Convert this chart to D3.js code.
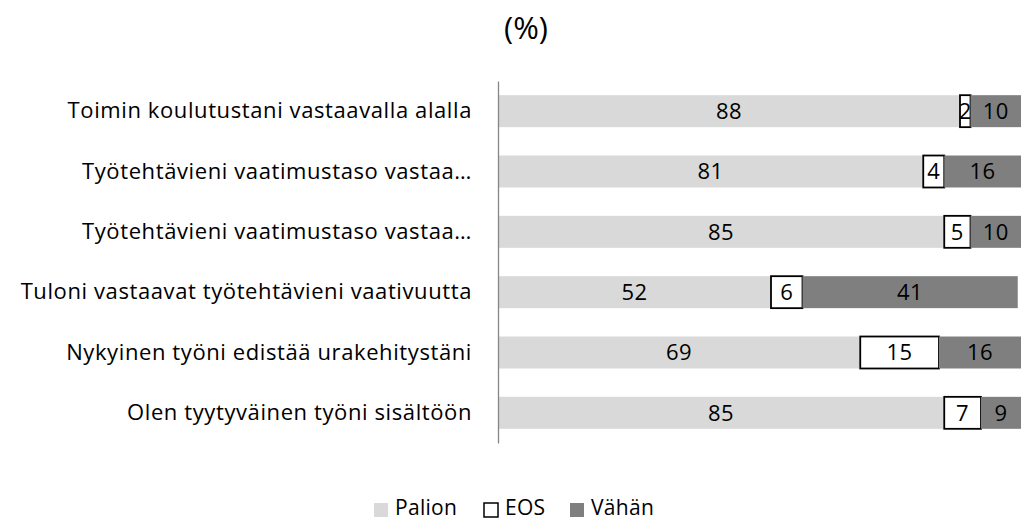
<!DOCTYPE html>
<html>
<head>
<meta charset="utf-8">
<script src="https://cdn.jsdelivr.net/npm/d3@7"></script>
<style>
  body { margin: 0; background: #fff; }
  text { font-family: "Open Sans", "Noto Sans", sans-serif; fill: #000; }
</style>
</head>
<body>
<script>
var kategoriat = [
  "Toimin koulutustani vastaavalla alalla",
  "Työtehtävieni vaatimustaso vastaa…",
  "Työtehtävieni vaatimustaso vastaa…",
  "Tuloni vastaavat työtehtävieni vaativuutta",
  "Nykyinen työni edistää urakehitystäni",
  "Olen tyytyväinen työni sisältöön"
];
var palion = [88, 81, 85, 52, 69, 85];
var eos = [2, 4, 5, 6, 15, 7];
var vahan = [10, 16, 10, 41, 16, 9];
var sarjat = ["Palion", "EOS", "Vähän"];

var vis = { width: 1021, height: 522, left: 498, right: 1023, top: 81, bottom: 443 };

var svg = d3.select("body").append("svg")
  .attr("width", vis.width)
  .attr("height", vis.height);

var rivit = kategoriat.map(function(k, i) {
  return { i: i, kategoria: k, Palion: palion[i], EOS: eos[i], "Vähän": vahan[i] };
});

var stack = d3.stack().keys(sarjat)(rivit);

var x = d3.scaleLinear().domain([0, 100]).range([vis.left, vis.right]);
var y = d3.scaleBand().domain(d3.range(kategoriat.length))
  .range([vis.top, vis.bottom]).paddingInner(0.47).paddingOuter(0.235);

var varit = { "Palion": "#d9d9d9", "EOS": "#ffffff", "Vähän": "#7f7f7f" };

var ryhmat = svg.selectAll("g.sarja")
  .data(stack)
  .enter()
  .append("g")
  .attr("class", "sarja");

ryhmat.selectAll("rect")
  .data(function(s) { return s.map(function(d) { return { key: s.key, d: d }; }); })
  .enter()
  .append("rect")
  .attr("x", function(e) { return x(e.d[0]); })
  .attr("y", function(e) { return y(e.d.data.i); })
  .attr("width", function(e) { return x(e.d[1]) - x(e.d[0]); })
  .attr("height", y.bandwidth())
  .attr("fill", function(e) { return varit[e.key]; })
  .attr("stroke", function(e) { return e.key === "EOS" ? "#000" : "none"; })
  .attr("stroke-width", 1.8);

ryhmat.selectAll("text")
  .data(function(s) { return s.map(function(d) { return { key: s.key, d: d }; }); })
  .enter()
  .append("text")
  .attr("x", function(e) { return (x(e.d[0]) + Math.min(x(e.d[1]), vis.width)) / 2; })
  .attr("y", function(e) { return y(e.d.data.i) + y.bandwidth() / 2; })
  .attr("dy", "0.36em")
  .attr("text-anchor", "middle")
  .attr("font-size", 22)
  .attr("letter-spacing", 0.5)
  .attr("fill", "#000")
  .text(function(e) { return e.d[1] - e.d[0]; });

// akseli
var akseli = svg.append("g")
  .attr("transform", "translate(" + vis.left + ",0)")
  .call(d3.axisLeft(y).tickSize(0).tickPadding(26).tickFormat(function(i) { return kategoriat[i]; }));
akseli.select(".domain").attr("stroke", "#868686").attr("stroke-width", 1.3);
akseli.selectAll("text").attr("font-size", 22)
  .attr("letter-spacing", 0.6)
  .attr("font-family", "'Open Sans', sans-serif").attr("fill", "#000");

svg.append("text")
  .attr("x", 526).attr("y", 39)
  .attr("text-anchor", "middle")
  .attr("font-size", 31)
  .text("(%)");

// selite
var selitePaikat = [374, 484, 570];
var selite = svg.selectAll("g.selite")
  .data(sarjat)
  .enter()
  .append("g")
  .attr("class", "selite")
  .attr("transform", function(d, i) { return "translate(" + selitePaikat[i] + ",503)"; });

selite.append("rect")
  .attr("x", 0).attr("y", 0).attr("width", 14).attr("height", 14)
  .attr("fill", function(d) { return varit[d]; })
  .attr("stroke", function(d) { return d === "EOS" ? "#000" : "none"; })
  .attr("stroke-width", 1.5);

selite.append("text")
  .attr("x", 21).attr("y", 12)
  .attr("font-size", 21)
  .attr("letter-spacing", 0.3)
  .text(function(d) { return d; });
</script>
</body>
</html>
